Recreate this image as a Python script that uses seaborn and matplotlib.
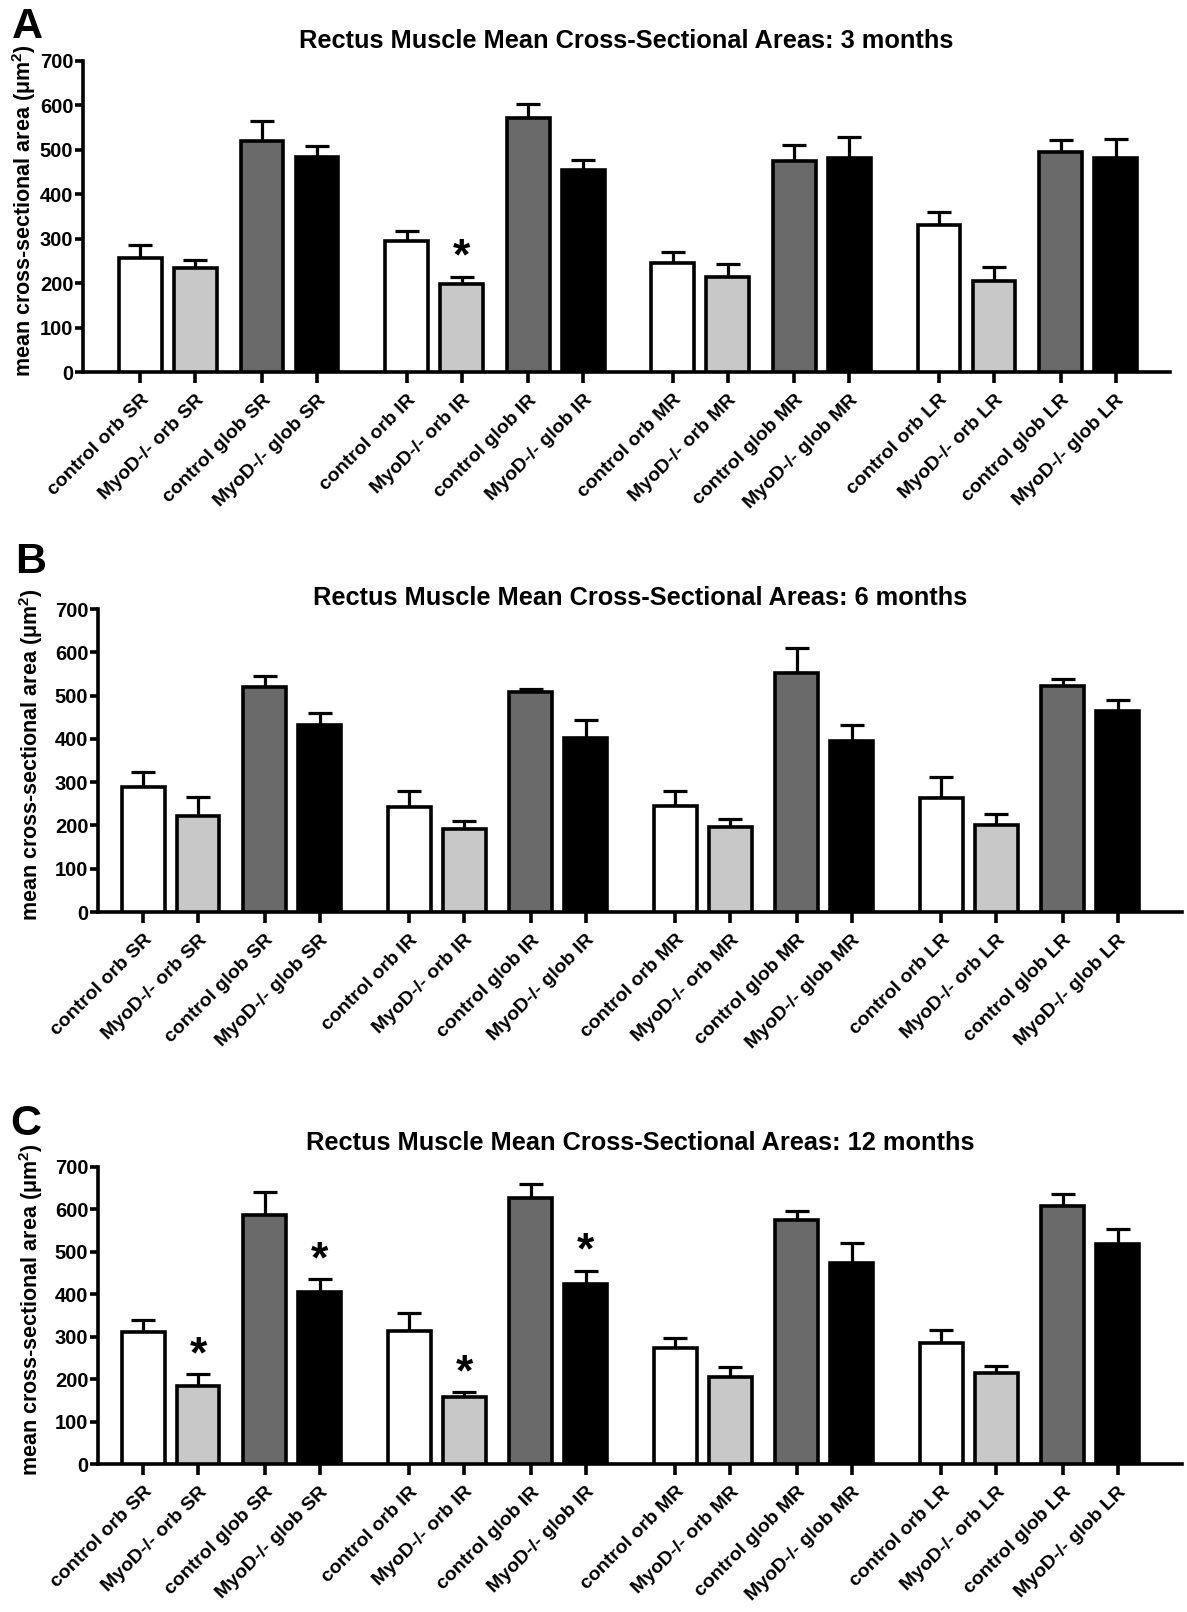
import numpy as np
import pandas as pd
import matplotlib
matplotlib.use("Agg")
import matplotlib.pyplot as plt
import seaborn as sns

# ---------------- data ----------------
muscles = ["SR", "IR", "MR", "LR"]
conditions = ["control orb", "MyoD-/- orb", "control glob", "MyoD-/- glob"]
ages = ["3 months", "6 months", "12 months"]

means_3 = [257, 234, 521, 483, 295, 197, 572, 455, 245, 213, 476, 482, 330, 205, 496, 482]
sem_3 = [28, 17, 45, 25, 23, 17, 32, 23, 25, 30, 36, 46, 31, 32, 27, 43]
means_6 = [289, 221, 519, 431, 243, 192, 509, 403, 246, 196, 552, 395, 264, 200, 522, 464]
sem_6 = [34, 44, 27, 28, 37, 18, 7, 40, 33, 18, 59, 37, 48, 26, 17, 26]
means_12 = [310, 185, 586, 405, 314, 159, 628, 424, 274, 206, 576, 474, 286, 214, 609, 519]
sem_12 = [29, 26, 55, 30, 41, 10, 33, 32, 24, 23, 20, 46, 31, 17, 27, 34]
stars_3 = [5]
stars_6 = []
stars_12 = [1, 3, 5, 7]

colors = ["#ffffff", "#c8c8c8", "#6a6a6a", "#000000"]

# ---------------- style ----------------
sns.set_style("ticks")
plt.rcParams["font.family"] = ["Liberation Sans", "DejaVu Sans"]
plt.rcParams["font.weight"] = "bold"
plt.rcParams["axes.labelweight"] = "bold"
plt.rcParams["mathtext.fontset"] = "custom"
plt.rcParams["mathtext.rm"] = "Liberation Sans:bold"
plt.rcParams["mathtext.bf"] = "Liberation Sans:bold"
plt.rcParams["mathtext.default"] = "rm"
plt.rcParams["axes.linewidth"] = 2.6
plt.rcParams["xtick.major.width"] = 2.6
plt.rcParams["ytick.major.width"] = 2.6
for key in ["xtick.color", "ytick.color", "axes.edgecolor", "text.color",
            "axes.labelcolor", "xtick.labelcolor", "ytick.labelcolor"]:
    plt.rcParams[key] = "black"

W, H = 1187, 1612
fig = plt.figure(figsize=(W / 100, H / 100), dpi=100)

within = [0, 1, 2.21, 3.21]
group_step = 4.84

panels = [
    dict(means=means_3, sem=sem_3, stars=stars_3, age=ages[0], box=(83, 1170, 61, 372),
         xlim=(-1.045, 18.72), title_y=48, letter="A", letter_xy=(12, 38), ylab_x=24),
    dict(means=means_6, sem=sem_6, stars=stars_6, age=ages[1], box=(98, 1182, 609, 912),
         xlim=(-0.82, 18.9), title_y=605, letter="B", letter_xy=(15, 573), ylab_x=31),
    dict(means=means_12, sem=sem_12, stars=stars_12, age=ages[2], box=(98, 1182, 1167, 1464),
         xlim=(-0.82, 18.9), title_y=1150, letter="C", letter_xy=(10, 1135), ylab_x=31),
]

for p in panels:
    l, r, t, b = p["box"]
    ax = fig.add_axes([l / W, 1 - b / H, (r - l) / W, (b - t) / H])
    rows = []
    for gi, m in enumerate(muscles):
        for ci, c in enumerate(conditions):
            k = gi * 4 + ci
            rows.append(dict(pos=gi * group_step + within[ci], cond=c,
                             label=f"{c} {m}", mean=p["means"][k], sem=p["sem"][k]))
    df = pd.DataFrame(rows)

    sns.barplot(data=df, x="pos", y="mean", hue="cond", hue_order=conditions,
                palette=colors, native_scale=True, dodge=False, width=0.78,
                errorbar=None, edgecolor="black", linewidth=2.6, legend=False,
                ax=ax, zorder=3)

    # upper-only SEM error bars
    ax.errorbar(df["pos"], df["mean"], yerr=[np.zeros(len(df)), df["sem"]],
                fmt="none", ecolor="black", elinewidth=2.3, capsize=8.6,
                capthick=2.3, zorder=2)

    for k in p["stars"]:
        ax.text(df["pos"][k], df["mean"][k] + df["sem"][k] - 4, "*",
                ha="center", va="bottom", fontsize=32, fontweight="bold")

    ax.set_xlim(*p["xlim"])
    ax.set_ylim(0, 700)
    ax.set_yticks(range(0, 701, 100))
    ax.set_xticks(df["pos"])
    ax.set_xticklabels(df["label"], rotation=45, ha="right", rotation_mode="anchor",
                       fontsize=14, fontweight="bold")
    ax.tick_params(axis="x", length=8, pad=6)
    ax.tick_params(axis="y", length=6, pad=1, labelsize=14.5)
    for lab in ax.get_yticklabels():
        lab.set_fontweight("bold")
    ax.set_xlabel("")
    ax.set_ylabel("mean cross-sectional area (μm$^{2}$)", fontsize=15.5, fontweight="bold")
    ax.yaxis.label.set_verticalalignment("center")
    ax.yaxis.set_label_coords((p["ylab_x"] - l) / (r - l), 0.52)
    sns.despine(ax=ax)

    fig.text(((l + r) / 2) / W, 1 - p["title_y"] / H,
             f"Rectus Muscle Mean Cross-Sectional Areas: {p['age']}",
             ha="center", va="baseline", fontsize=18.3, fontweight="bold")
    lx, ly = p["letter_xy"]
    fig.text(lx / W, 1 - ly / H, p["letter"], ha="left", va="baseline",
             fontsize=31, fontweight="bold")

fig.savefig("out.png", dpi=100, facecolor="white")
